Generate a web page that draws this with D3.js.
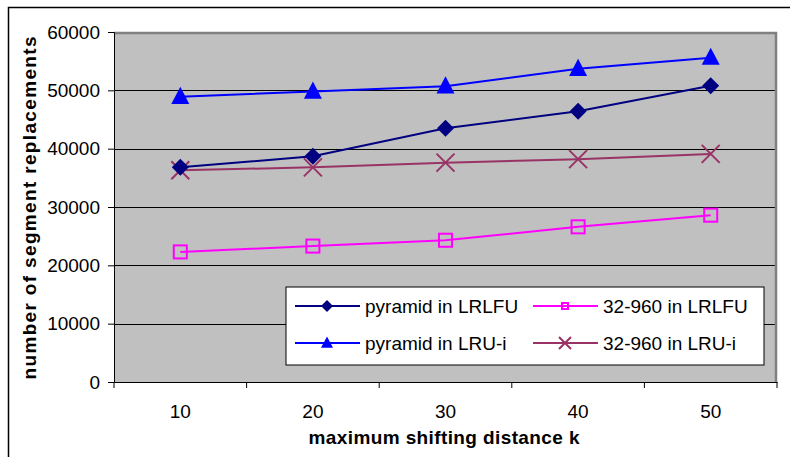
<!DOCTYPE html>
<html>
<head>
<meta charset="utf-8">
<script src="https://cdn.jsdelivr.net/npm/d3@7"></script>
<style>
  body { margin: 0; background: #fff; }
  svg { display: block; font-family: "Liberation Sans", Arial, sans-serif; }
</style>
</head>
<body>
<svg class="chart" width="790" height="457"></svg>
<script>
const categories = [10, 20, 30, 40, 50];
const yTicks = [0, 10000, 20000, 30000, 40000, 50000, 60000];
const pyramidLRLFU = [36800, 38700, 43500, 46400, 50800];
const pyramidLRUi = [48900, 49800, 50700, 53700, 55600];
const s32LRLFU = [22300, 23300, 24300, 26600, 28600];
const s32LRUi = [36300, 36800, 37600, 38200, 39100];

const series = [
  { name: 'pyramid in LRLFU', values: pyramidLRLFU, color: '#000080', marker: 'diamond' },
  { name: '32-960 in LRLFU', values: s32LRLFU, color: '#FF00FF', marker: 'square' },
  { name: 'pyramid in LRU-i', values: pyramidLRUi, color: '#0000FF', marker: 'triangle' },
  { name: '32-960 in LRU-i', values: s32LRUi, color: '#993366', marker: 'cross' },
];

const svg = d3.select('.chart');
const [plotL, plotT, plotR, plotB] = [114, 32, 777, 382];
const fontSize = 19;

// outer frame (only top and left visible)
svg.append('path').attr('d', 'M8.5,457 V7.5 H790').attr('fill', 'none').attr('stroke', '#000').attr('stroke-width', 1.5);

const x = d3.scaleBand().domain(categories).range([plotL, plotR]);
const y = d3.scaleLinear().domain([0, 60000]).range([plotB, plotT]);

svg.append('rect')
  .attr('x', plotL).attr('y', plotT).attr('width', plotR - plotL).attr('height', plotB - plotT)
  .attr('fill', '#C0C0C0');

// gridlines
svg.append('g').selectAll('line').data(yTicks.slice(1, -1)).enter().append('line')
  .attr('x1', plotL).attr('x2', plotR)
  .attr('y1', d => Math.round(y(d)) + 0.5).attr('y2', d => Math.round(y(d)) + 0.5)
  .attr('stroke', '#000').attr('stroke-width', 1);

// gray border top & right
svg.append('path').attr('d', `M${plotL},${plotT + 1} H${plotR - 1} V${plotB}`)
  .attr('fill', 'none').attr('stroke', '#808080').attr('stroke-width', 2.5);

const yAxis = svg.append('g').attr('transform', `translate(${plotL},0)`)
  .call(d3.axisLeft(y).tickValues(yTicks).tickSize(6).tickPadding(8).tickFormat(d3.format('d')));
const xAxis = svg.append('g').attr('transform', `translate(0,${plotB})`)
  .call(d3.axisBottom(x).tickSize(0).tickPadding(23));
xAxis.selectAll('.tick').append('line')
  .attr('x1', -x.bandwidth() / 2).attr('x2', -x.bandwidth() / 2).attr('y2', 6).attr('stroke', '#000');
xAxis.append('line').attr('x1', plotR).attr('x2', plotR).attr('y2', 6).attr('stroke', '#000');
[yAxis, xAxis].forEach(g => {
  g.select('.domain').attr('stroke', '#000');
  g.selectAll('text').attr('font-size', fontSize).attr('fill', '#000').attr('font-family', '"Liberation Sans", Arial, sans-serif');
});

const line = d3.line().x((d, i) => x(categories[i]) + x.bandwidth() / 2).y(d => y(d));

function marker(g, type, color, s) {
  if (type === 'diamond') {
    g.append('path').attr('d', `M0,${-s} L${s},0 L0,${s} L${-s},0Z`).attr('fill', color);
  } else if (type === 'triangle') {
    g.append('path').attr('d', `M0,${-s * 1.1} L${s},${s * 0.8} L${-s},${s * 0.8}Z`).attr('fill', color);
  } else if (type === 'square') {
    g.append('rect').attr('x', -s * 0.75).attr('y', -s * 0.75).attr('width', s * 1.5).attr('height', s * 1.5)
      .attr('fill', 'none').attr('stroke', color).attr('stroke-width', 2);
  } else {
    g.append('path').attr('d', `M${-s},${-s} L${s},${s} M${-s},${s} L${s},${-s}`)
      .attr('stroke', color).attr('stroke-width', 2);
  }
}

const drawOrder = [series[3], series[1], series[2], series[0]];
drawOrder.forEach(s => {
  svg.append('path').datum(s.values).attr('d', line)
    .attr('fill', 'none').attr('stroke', s.color).attr('stroke-width', 2);
  s.values.forEach((v, i) => {
    const g = svg.append('g').attr('transform', `translate(${x(categories[i]) + x.bandwidth() / 2},${y(v)})`);
    marker(g, s.marker, s.color, { square: 8.7, diamond: 8.5 }[s.marker] || 9);
  });
});

// legend
const legend = svg.append('g');
legend.append('rect').attr('x', 286).attr('y', 287).attr('width', 478).attr('height', 78)
  .attr('fill', '#fff').attr('stroke', '#000').attr('stroke-width', 1);
series.forEach((s, i) => {
  const col = i % 2, row = Math.floor(i / 2);
  const lx = col === 0 ? 295 : 533;
  const ly = row === 0 ? 306 : 343;
  const g = legend.append('g');
  g.append('line').attr('x1', lx).attr('x2', lx + 65).attr('y1', ly).attr('y2', ly)
    .attr('stroke', s.color).attr('stroke-width', 2);
  marker(g.append('g').attr('transform', `translate(${lx + 32},${ly})`), s.marker, s.color, s.marker === 'square' ? 4 : 6);
  g.append('text').attr('x', lx + 70).attr('y', ly + 7).attr('font-size', fontSize).text(s.name);
});

// axis titles
svg.append('text').attr('transform', `translate(36,${(plotT + plotB) / 2 + 1}) rotate(-90)`)
  .attr('text-anchor', 'middle').attr('font-size', fontSize).attr('font-weight', 'bold')
  .attr('textLength', 343).attr('lengthAdjust', 'spacing')
  .text('number of segment replacements');
svg.append('text').attr('x', 444).attr('y', 444)
  .attr('text-anchor', 'middle').attr('font-size', fontSize).attr('font-weight', 'bold')
  .attr('textLength', 271).attr('lengthAdjust', 'spacing')
  .text('maximum shifting distance k');
</script>
</body>
</html>
